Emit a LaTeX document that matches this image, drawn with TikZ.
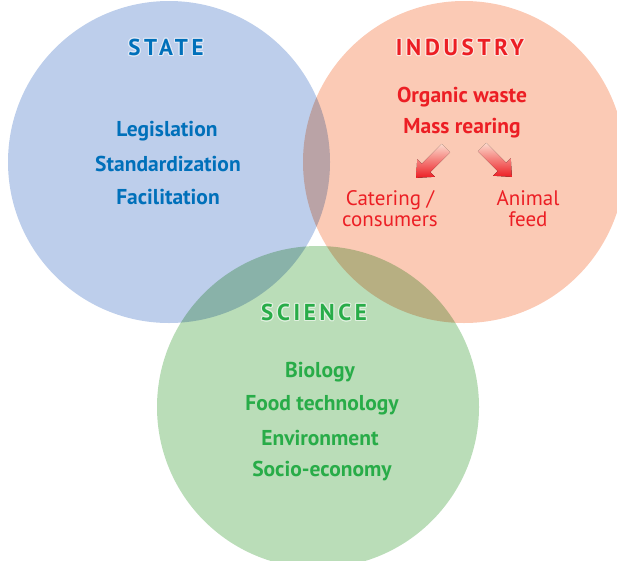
\documentclass[tikz,border=0pt]{standalone}
\usepackage{fontspec}
\setmainfont{PT Sans}
\usepackage[copies]{contour}

\definecolor{statefill}{RGB}{189,206,235}
\definecolor{industryfill}{RGB}{251,202,181}
\definecolor{sciencefill}{RGB}{186,221,184}
\definecolor{statetext}{RGB}{0,112,186}
\definecolor{industrytext}{RGB}{236,30,36}
\definecolor{sciencetext}{RGB}{40,172,72}
\definecolor{arrowlight}{RGB}{252,218,204}
\contourlength{1.1pt}

\begin{document}
\begin{tikzpicture}[
    x=1pt, y=-1pt,
    every node/.style={align=center, font=\bfseries\fontsize{21.5}{21.5}\selectfont},
    set/.style={circle, minimum size=322pt, inner sep=0pt},
    title/.style={font=\bfseries\fontsize{23}{23}\selectfont\addfontfeature{LetterSpace=16}},
    plain/.style={font=\fontsize{21}{21}\selectfont, text=industrytext},
    flow/.style={top color=arrowlight, bottom color=industrytext}
  ]
  \useasboundingbox (0,0) rectangle (617,560);

  \begin{scope}[blend mode=multiply]
    \node[set, fill=statefill] (state) at (169,162) {};
    \node[set, fill=industryfill] (industry) at (464,162) {};
    \node[set, fill=sciencefill] (science) at (318,407) {};
  \end{scope}

  \node[title, text=statetext] (statetitle) at (166,48) {\contour{white!55!statefill}{STATE}};
  \node[text=statetext] (legislation) at (167,131) {Legislation};
  \node[text=statetext] (standard) at (168,164) {Standardization};
  \node[text=statetext] (facilitation) at (168,197) {Facilitation};

  \node[title, text=industrytext] (industrytitle) at (460,48) {\contour{white!55!industryfill}{INDUSTRY}};
  \node[text=industrytext] (organic) at (462,97) {Organic waste};
  \node[text=industrytext] (rearing) at (462,128) {Mass rearing};

  % block arrows
  \coordinate (toconsumers) at (431,163);
  \coordinate (tofeed) at (497,162);
  \foreach \c/\a in {toconsumers/225, tofeed/-45}
    \fill[flow, shift={(\c)}, rotate=\a]
      (-21,-6) -- (7,-6) -- (7,-12.5) -- (21,0) -- (7,12.5) -- (7,6) -- (-21,6) -- cycle;

  \node[plain] (catering) at (390,209) {Catering /\\consumers};
  \node[plain] (animal) at (528,209) {Animal\\feed};

  \node[title, text=sciencetext] (sciencetitle) at (314,313) {\contour{white!55!sciencefill}{SCIENCE}};
  \node[text=sciencetext] (biology) at (320,372) {Biology};
  \node[text=sciencetext] (foodtech) at (322,405) {Food technology};
  \node[text=sciencetext] (environment) at (320,438) {Environment};
  \node[text=sciencetext] (socio) at (322,471) {Socio-economy};
\end{tikzpicture}
\end{document}
